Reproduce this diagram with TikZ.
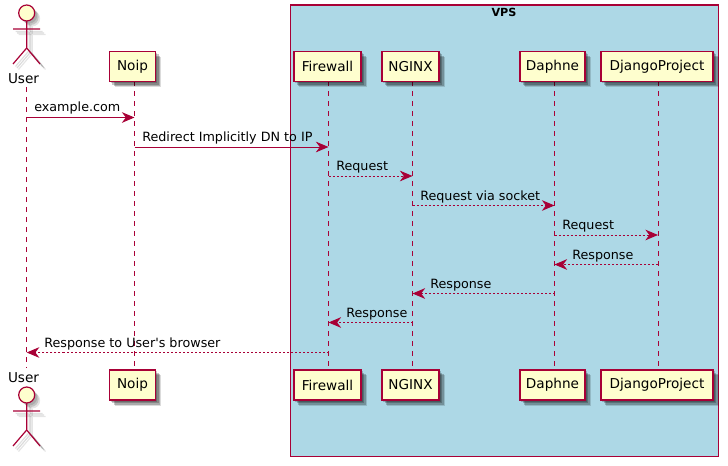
\documentclass[tikz,border=0pt]{standalone}
\usepackage{fontspec}
\newfontfamily\plainfont{DejaVu Sans}
\usetikzlibrary{arrows.meta,calc}
\definecolor{plum}{HTML}{A80036}
\definecolor{cream}{HTML}{FEFECE}
\definecolor{vpsblue}{HTML}{ADD8E6}
\tikzset{
 x=0.75pt,y=-0.75pt,
 part/.style={draw=plum,fill=cream,line width=0.85pt,minimum height=22.5pt,inner sep=0pt,font=\plainfont\fontsize{10.2pt}{12pt}\selectfont,text=black},
 life/.style={draw=plum,line width=0.7pt,dash pattern=on 3.75pt off 3.75pt},
 msgsolid/.style={draw=plum,line width=0.7pt,-{Stealth[length=9.5pt,width=8pt,inset=3pt,color=plum]}},
 msgdash/.style={msgsolid,dash pattern=on 1.5pt off 1.5pt},
 msgtext/.style={anchor=base west,inner sep=0pt,font=\plainfont\fontsize{9.55pt}{11pt}\selectfont,text=black},
 actorline/.style={draw=plum,line width=0.9pt},
 actorhead/.style={draw=plum,fill=cream,line width=0.9pt},
 actorname/.style={inner sep=0pt,font=\plainfont\fontsize{10.2pt}{12pt}\selectfont,text=black},
 lane/.style={draw=plum,fill=vpsblue,line width=0.8pt},
}
\newcommand{\soft}[1]{%
 \foreach \o/\p in {1.5/.2,3/.22,4.5/.22,5.5/.14}{\fill[black,opacity=\p] ($(#1.north west)+(\o,\o)$) rectangle ($(#1.south east)+(\o,\o)$);}}
\newcommand{\actorfig}[1]{%
 \foreach \o/\p in {2.5/.12,4/.14,5.5/.1}{%
  \begin{scope}[shift={(\o,\o)},opacity=\p]
  \fill[black] (26.7,#1) circle (8);
  \draw[black,line width=0.9pt] (26.7,#1+8) -- (26.7,#1+35) (13,#1+16) -- (40,#1+16) (26.7,#1+35) -- (13,#1+51) (26.7,#1+35) -- (40,#1+51);
  \end{scope}}
 \draw[actorline] (26.7,#1+8) -- (26.7,#1+35) (13,#1+16) -- (40,#1+16) (26.7,#1+35) -- (13,#1+51) (26.7,#1+35) -- (40,#1+51);
 \draw[actorhead] (26.7,#1) circle (8);}
\begin{document}
\begin{tikzpicture}
\useasboundingbox (0,0) rectangle (728,466);
\fill[white] (0,0) rectangle (728,466);
% lane
\node[lane,minimum width=321pt,minimum height=338.25pt,inner sep=0pt,anchor=north west] (vps) at (289.5,4.5) {};
\node[inner sep=0pt,font=\plainfont\bfseries\fontsize{8.4pt}{10pt}\selectfont] (vpsname) at (504,12.5) {VPS};
% coordinates of the messages
\coordinate (user) at (26.7,87);
\coordinate (userend) at (26.7,368);
\foreach \n/\y in {m1/117.5,m2/147,m3/176,m4/205.5,m5/235,m6/264.5,m7/293.5,m8/322.5,m9/352.5}{\coordinate (\n) at (0,\y);}
\foreach \nm/\cx/\w in {noip/132.5/46,fw/327.5/67,ng/410.5/57,da/552.5/65,dj/657/112}{
 \path node[minimum width=\w*0.75pt,minimum height=22.5pt,inner sep=0pt] (\nm) at (\cx,66.5) {};
 \path node[minimum width=\w*0.75pt,minimum height=22.5pt,inner sep=0pt] (\nm b) at (\cx,385) {};
}
\foreach \nm/\ll in {noip/134.5,fw/328.5,ng/412.5,da/554.5,dj/658}{
 \coordinate (\nm L) at (\ll,81.5);
 \coordinate (\nm E) at (\ll,370);
 \draw[life] (\nm L) -- (\nm E);
}
\draw[life] (user) -- (userend);
\foreach \nm/\lab/\cx/\w in {noip/Noip/132.5/46,fw/Firewall/327.5/67,ng/NGINX/410.5/57,da/Daphne/552.5/65,dj/DjangoProject/657/112}{
 \soft{\nm}
 \soft{\nm b}
 \node[part,minimum width=\w*0.75pt] (\nm T) at (\cx,66.5) {\lab};
 \node[part,minimum width=\w*0.75pt] (\nm B) at (\cx,385) {\lab};
}
% actors
\actorfig{13}
\actorfig{395}
\node[actorname] (utop) at (23.5,79) {User};
\node[actorname] (ubot) at (23.5,378) {User};
% messages
\draw[msgsolid] (user |- m1) -- (noipL |- m1);
\node[msgtext] (t1) at (34,112) {example.com};
\draw[msgsolid] (noipL |- m2) -- (fwL |- m2);
\node[msgtext] (t2) at (142,141.5) {Redirect Implicitly DN to IP};
\draw[msgdash] (fwL |- m3) -- (ngL |- m3);
\node[msgtext] (t3) at (336,171) {Request};
\draw[msgdash] (ngL |- m4) -- (daL |- m4);
\node[msgtext] (t4) at (420,200.5) {Request via socket};
\draw[msgdash] (daL |- m5) -- (djL |- m5);
\node[msgtext] (t5) at (562,230) {Request};
\draw[msgdash] (djL |- m6) -- (daL |- m6);
\node[msgtext] (t6) at (572,259.5) {Response};
\draw[msgdash] (daL |- m7) -- (ngL |- m7);
\node[msgtext] (t7) at (430,288.5) {Response};
\draw[msgdash] (ngL |- m8) -- (fwL |- m8);
\node[msgtext] (t8) at (346,317.5) {Response};
\draw[msgdash] (fwL |- m9) -- (user |- m9);
\node[msgtext] (t9) at (44,347.5) {Response to User's browser};
\end{tikzpicture}
\end{document}
